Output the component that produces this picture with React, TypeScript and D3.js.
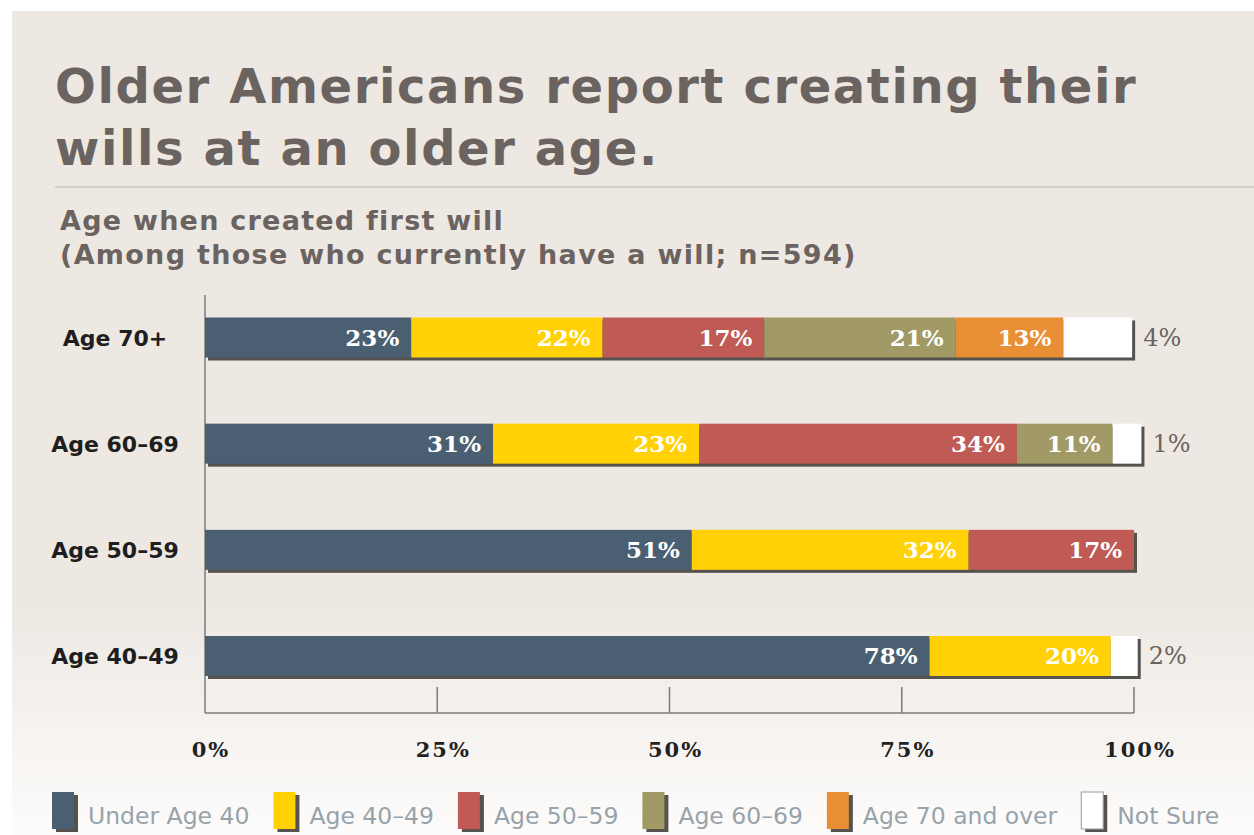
import React, { useMemo } from "react";
import * as d3 from "d3";

// ---------- data ----------
const categories = ["Age 70+", "Age 60–69", "Age 50–59", "Age 40–49"];
const seriesNames = ["Under Age 40", "Age 40–49", "Age 50–59", "Age 60–69", "Age 70 and over", "Not Sure"];
const seriesColors = ["#4a5f72", "#ffd106", "#bf5a54", "#a29a66", "#e88e35", "#ffffff"];

// bar lengths as drawn in the picture (percent of axis)
const under40 = [22.2, 31.0, 52.4, 78.0];
const age4049 = [20.6, 22.2, 29.8, 19.5];
const age5059 = [17.4, 34.2, 17.8, 0];
const age6069 = [20.6, 10.3, 0, 0];
const age70plus = [11.6, 0, 0, 0];
const notSure = [7.4, 3.1, 0, 2.9];

// values printed on the bars
const under40Labels = [23, 31, 51, 78];
const age4049Labels = [22, 23, 32, 20];
const age5059Labels = [17, 34, 17, null];
const age6069Labels = [21, 11, null, null];
const age70plusLabels = [13, null, null, null];
const notSureLabels = [4, 1, null, 2];

const xTicks = [0, 25, 50, 75, 100];

const W = 1254;
const H = 835;

const sansFont = "'DejaVu Sans', Verdana, sans-serif";
const serifFont = "'DejaVu Serif', Georgia, serif";

function measure(text: string, font: string): number {
  const c = document.createElement("canvas");
  const ctx = c.getContext("2d");
  if (!ctx) return text.length * 12;
  ctx.font = font;
  return ctx.measureText(text).width;
}

export default function App() {
  const seriesValues = [under40, age4049, age5059, age6069, age70plus, notSure];
  const seriesLabels = [under40Labels, age4049Labels, age5059Labels, age6069Labels, age70plusLabels, notSureLabels];

  const table = categories.map((c, i) => {
    const row: any = { category: c };
    seriesNames.forEach((s, j) => (row[s] = seriesValues[j][i]));
    return row;
  });
  const stacked = d3.stack<any>().keys(seriesNames)(table);

  const x = d3.scaleLinear().domain([0, 100]).range([205, 1134]);
  const y = d3.scalePoint<string>().domain(categories).range([337.5, 656]);
  const barH = 40;
  const axisY = 713;
  const legendFontSize = 23.5;

  const legendItems = useMemo(() => {
    let cx = 52;
    return seriesNames.map((s, i) => {
      const w = measure(s, `${legendFontSize}px ${sansFont}`);
      const item = { name: s, color: seriesColors[i], x: cx };
      cx += 38 + w + 22;
      return item;
    });
  }, []);

  const barEnds = categories.map((c, i) => stacked[stacked.length - 1][i][1]);

  return (
    <svg width={W} height={H} style={{ position: "absolute", left: 0, top: 0 }}>
      <defs>
        <linearGradient id="bg" x1="0" y1="0" x2="0" y2="1">
          <stop offset="0" stopColor="#ede8e2" />
          <stop offset="0.72" stopColor="#ede8e2" />
          <stop offset="1" stopColor="#fdfcfb" />
        </linearGradient>
      </defs>
      <rect x={0} y={0} width={W} height={H} fill="#ffffff" />
      <rect x={12} y={11} width={W - 12} height={H - 11} fill="url(#bg)" />

      {/* title */}
      <text x={55} y={103} fontFamily={sansFont} fontWeight="bold" fontSize={48} letterSpacing={1.6} fill="#6b635f">
        Older Americans report creating their
      </text>
      <text x={55} y={165} fontFamily={sansFont} fontWeight="bold" fontSize={48} letterSpacing={1.6} fill="#6b635f">
        wills at an older age.
      </text>
      <line x1={55} x2={W} y1={187} y2={187} stroke="#d6cfc7" strokeWidth={2} />

      <text x={60} y={230} fontFamily={sansFont} fontWeight="bold" fontSize={27} letterSpacing={1.25} fill="#6b635f">
        Age when created first will
      </text>
      <text x={60} y={264} fontFamily={sansFont} fontWeight="bold" fontSize={27} letterSpacing={1.3} fill="#6b635f">
        (Among those who currently have a will; n=594)
      </text>

      {/* axes */}
      <line x1={x(0)} x2={x(0)} y1={295} y2={axisY} stroke="#7d7b78" strokeWidth={1.5} />
      <line x1={x(0)} x2={x(100)} y1={axisY} y2={axisY} stroke="#7d7b78" strokeWidth={1.5} />
      {xTicks.filter((t) => t > 0).map((t) => (
        <line key={t} x1={x(t)} x2={x(t)} y1={687} y2={axisY} stroke="#7d7b78" strokeWidth={1.5} />
      ))}
      {xTicks.map((t) => (
        <text
          key={t}
          x={x(t) + 6}
          y={757}
          textAnchor="middle"
          fontFamily={serifFont}
          fontWeight="bold"
          fontSize={21}
          letterSpacing={2}
          fill="#222"
        >
          {t}%
        </text>
      ))}

      {/* category labels */}
      {categories.map((c) => (
        <text
          key={c}
          x={115}
          y={(y(c) as number) + 8}
          textAnchor="middle"
          fontFamily={sansFont}
          fontWeight="bold"
          fontSize={22}
          fill="#1e1e1e"
        >
          {c}
        </text>
      ))}

      {/* bar shadows */}
      {categories.map((c, i) => (
        <rect
          key={c}
          x={x(0) + 3}
          y={(y(c) as number) - barH / 2 + 3}
          width={x(barEnds[i]) - x(0)}
          height={barH}
          fill="#55524f"
        />
      ))}

      {/* bars */}
      {stacked.map((layer, j) => (
        <g key={layer.key} fill={seriesColors[j]}>
          {layer.map((d, i) =>
            d[1] - d[0] > 0 ? (
              <rect
                key={i}
                x={x(d[0])}
                y={(y(categories[i]) as number) - barH / 2}
                width={x(d[1]) - x(d[0])}
                height={barH}
              />
            ) : null
          )}
        </g>
      ))}

      {/* value labels */}
      {stacked.map((layer, j) =>
        layer.map((d, i) => {
          const lab = seriesLabels[j][i];
          if (lab === null || d[1] - d[0] <= 0) return null;
          const cy = (y(categories[i]) as number) + 8;
          if (j === seriesNames.length - 1) {
            return (
              <text
                key={`${j}-${i}`}
                x={x(d[1]) + 11}
                y={cy}
                fontFamily={serifFont}
                fontSize={24}
                fill="#6b635f"
              >
                {lab}%
              </text>
            );
          }
          return (
            <text
              key={`${j}-${i}`}
              x={x(d[1]) - 12}
              y={cy}
              textAnchor="end"
              fontFamily={serifFont}
              fontWeight="bold"
              fontSize={23}
              fill="#ffffff"
            >
              {lab}%
            </text>
          );
        })
      )}

      {/* legend */}
      {legendItems.map((it) => (
        <g key={it.name}>
          <rect x={it.x + 4} y={795} width={22} height={37} fill="#55524f" />
          <rect
            x={it.x}
            y={792}
            width={22}
            height={37}
            fill={it.color}
            stroke={it.color === "#ffffff" ? "#9a9a9a" : "none"}
            strokeWidth={1}
          />
          <text x={it.x + 36} y={824} fontFamily={sansFont} fontSize={legendFontSize} fill="#97a3ab">
            {it.name}
          </text>
        </g>
      ))}
    </svg>
  );
}
